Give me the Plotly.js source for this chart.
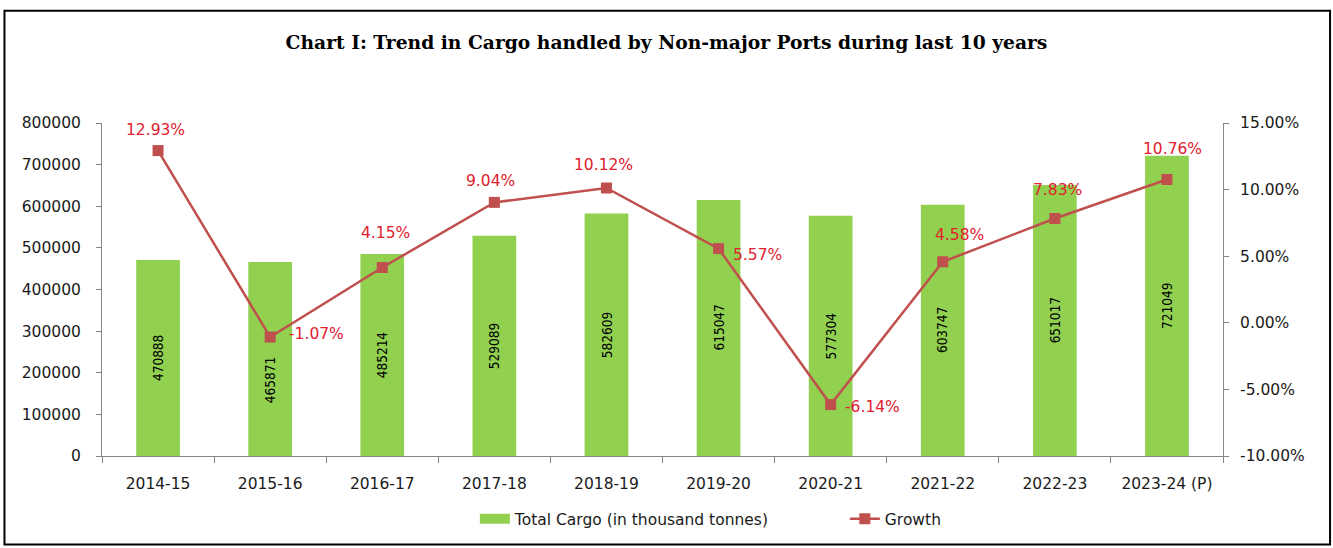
<!DOCTYPE html>
<html>
<head>
<meta charset="utf-8">
<script src="https://cdn.plot.ly/plotly-3.0.1.min.js"></script>
<style>
html,body{margin:0;padding:0;background:#fff;}
#chart{width:1333px;height:548px;}
</style>
</head>
<body>
<div id="chart"></div>
<script>
const years = ["2014-15","2015-16","2016-17","2017-18","2018-19","2019-20","2020-21","2021-22","2022-23","2023-24 (P)"];
const cargo = [470888,465871,485214,529089,582609,615047,577304,603747,651017,721049];
const growthPct = [12.93,-1.07,4.15,9.04,10.12,5.57,-6.14,4.58,7.83,10.76];
const growthTicksPct = [-10,-5,0,5,10,15];

// label placement styling (pixel offsets, not data)
const growthLabelDx = [-3, 46, 3, -4, -3, 39, 42, 17, 3, 6];
const growthLabelDy = [21, 3, 35, 21, 23, -6, -2, 27, 29, 30];
const barLabelShift = [0,-21,0,0,0,0,0,0,0,0];

const growth = growthPct.map(v => v/100);
const growthText = growthPct.map(v => v.toFixed(2) + "%");
const growthTickVals = growthTicksPct.map(v => v/100);
const growthTickText = growthTicksPct.map(v => v.toFixed(2) + "%");

const baseFont = "DejaVu Sans, Verdana, sans-serif";
const tickFont = {family: baseFont, size: 15.5, color: "#1a1a1a"};

const traces = [
  {
    type: "bar",
    name: "Total Cargo (in thousand tonnes)",
    x: years,
    y: cargo,
    marker: {color: "#92D050"},
    width: 0.39,
    showlegend: false,
    hoverinfo: "x+y"
  },
  {
    // legend swatch for the bars (wide rectangle as in reference)
    type: "scatter",
    mode: "lines",
    name: "Total Cargo (in thousand tonnes)",
    x: [null],
    y: [null],
    line: {color: "#92D050", width: 10},
    showlegend: true,
    hoverinfo: "skip"
  },
  {
    type: "scatter",
    mode: "lines+markers",
    name: "Growth",
    x: years,
    y: growth,
    yaxis: "y2",
    line: {color: "#C0504D", width: 2.5},
    marker: {symbol: "square", size: 11, color: "#C0504D"},
    cliponaxis: false
  }
];

const barAnnotations = years.map((yr, i) => ({
  x: yr,
  y: cargo[i] / 2,
  xref: "x",
  yref: "y",
  text: String(cargo[i]),
  textangle: -90,
  showarrow: false,
  yshift: barLabelShift[i],
  font: {family: "DejaVu Sans Condensed, DejaVu Sans, sans-serif", size: 13.5, color: "#000"}
}));

const growthAnnotations = years.map((yr, i) => ({
  x: yr,
  y: growth[i],
  xref: "x",
  yref: "y2",
  text: growthText[i],
  showarrow: false,
  xanchor: "center",
  yanchor: "middle",
  xshift: growthLabelDx[i],
  yshift: growthLabelDy[i],
  font: {family: baseFont, size: 15.5, color: "#E0202E"}
}));

const layout = {
  width: 1333,
  height: 548,
  margin: {l: 102, r: 110, t: 123, b: 90},
  paper_bgcolor: "#fff",
  plot_bgcolor: "#fff",
  title: {
    text: "<b>Chart I: Trend in Cargo handled by Non-major Ports during last 10 years</b>",
    font: {family: "DejaVu Serif, Liberation Serif, serif", size: 18.7, color: "#000"},
    x: 0.5, xanchor: "center",
    y: 0.923, yanchor: "middle"
  },
  bargap: 0.6,
  xaxis: {
    type: "category",
    range: [-0.5, 9.5],
    showline: true, linecolor: "#868686", linewidth: 1,
    ticks: "outside", tickson: "boundaries", ticklen: 6, tickcolor: "#868686",
    tickfont: tickFont,
    ticklabelstandoff: 13,
    showgrid: false, zeroline: false
  },
  yaxis: {
    range: [0, 800000],
    dtick: 100000,
    tickformat: "d",
    showline: true, linecolor: "#868686", linewidth: 1,
    ticks: "outside", ticklen: 5, tickcolor: "#868686",
    tickfont: tickFont,
    ticklabelstandoff: 12,
    showgrid: false, zeroline: false
  },
  yaxis2: {
    overlaying: "y",
    side: "right",
    range: [-0.10, 0.15],
    tickmode: "array",
    tickvals: growthTickVals,
    ticktext: growthTickText,
    showline: true, linecolor: "#868686", linewidth: 1,
    ticks: "outside", ticklen: 5, tickcolor: "#868686",
    tickfont: tickFont,
    ticklabelstandoff: 8,
    showgrid: false, zeroline: false
  },
  showlegend: true,
  legend: {
    orientation: "h",
    x: 0.3326, xanchor: "left",
    y: -0.19, yanchor: "middle",
    font: {family: baseFont, size: 15.5, color: "#1a1a1a"},
    entrywidth: 325,
    entrywidthmode: "pixels"
  },
  annotations: barAnnotations.concat(growthAnnotations),
  shapes: [
    {
      type: "rect", xref: "paper", yref: "paper",
      x0: -0.087, x1: 1.0955, y0: -0.2657, y1: 1.3373,
      line: {color: "#000", width: 2}, fillcolor: "rgba(0,0,0,0)",
      layer: "below"
    }
  ]
};

Plotly.newPlot("chart", traces, layout, {displayModeBar: false, staticPlot: true});
</script>
</body>
</html>
